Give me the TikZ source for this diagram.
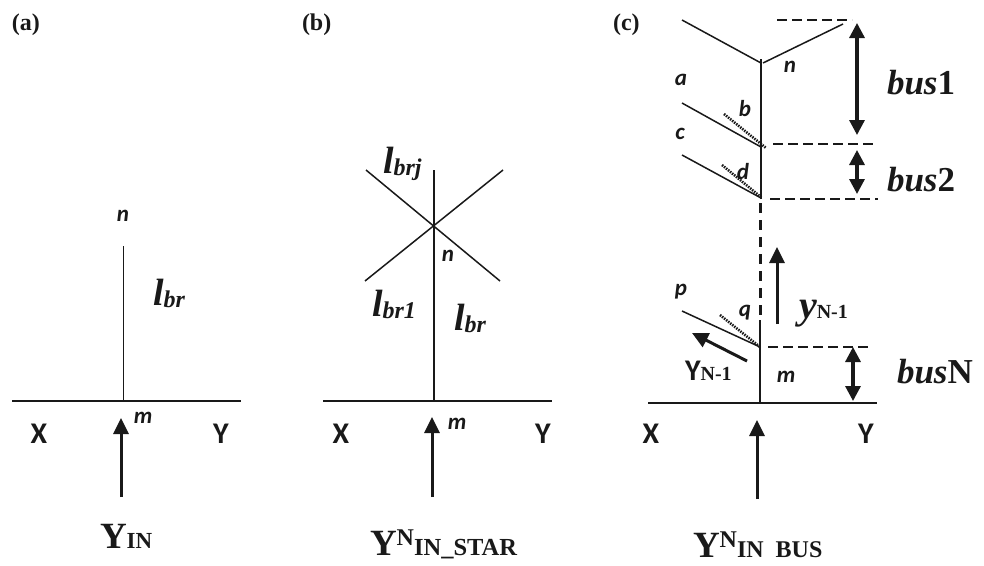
\documentclass[tikz,border=0pt]{standalone}
\usepackage{fontspec}
\usetikzlibrary{arrows.meta}
\setmainfont{Liberation Serif}
\newfontfamily\sansf{Carlito}
\newcommand{\fsz}[1]{\fontsize{#1}{#1}\selectfont}
\newcommand{\lbl}[2]{{\fsz{38}\bfseries\itshape l}\raisebox{-2pt}{\fsz{#2}\bfseries\itshape #1}}
\newcommand{\busl}[1]{{\fsz{35}\bfseries\itshape bus}{\fsz{35}\bfseries #1}}
\tikzset{
  x=1pt,y=-1pt,
  ink/.style={draw=black!90},
  thinl/.style={ink,line width=1.5pt},
  busbar/.style={ink,line width=1.7pt},
  dashl/.style={ink,line width=2pt,dash pattern=on 10pt off 5pt},
  dashv/.style={ink,line width=3pt,dash pattern=on 10pt off 7pt},
  dotl/.style={ink,line width=2.6pt,dash pattern=on 1.5pt off 1.1pt},
  uparr/.style={ink,line width=3pt,-{Triangle[width=15pt,length=16pt]}},
  dblarr/.style={ink,line width=3.2pt,{Triangle[width=15pt,length=15pt]}-{Triangle[width=15pt,length=15pt]}},
  txt/.style={inner sep=0pt,outer sep=0pt,text=black!90},
  base/.style={txt,anchor=base west},
  panel/.style={base,font=\fsz{24}\bfseries},
  nodel/.style={txt,font=\sansf\fsz{23}\bfseries\itshape},
  xyl/.style={txt,font=\sansf\fsz{30}\bfseries},
}
\begin{document}
\begin{tikzpicture}
\useasboundingbox (0,0) rectangle (984,565);
% panel labels
\node[panel] (pa) at (12,30) {(a)};
\node[panel] (pb) at (302,30) {(b)};
\node[panel] (pc) at (613,30) {(c)};

% ---------- (a)
\coordinate (a1) at (12,401); \coordinate (a2) at (241,401);
\coordinate (am) at (123.5,401); \coordinate (an) at (123.5,246);
\coordinate (as) at (121,497); \coordinate (at) at (121,418);
\draw[busbar] (a1) -- (a2);
\draw[thinl] (am) -- (an);
\draw[uparr] (as) -- (at);
\node[nodel] (anl) at (123,216) {n};
\node[nodel] (aml) at (143,418) {m};
\node[xyl] (ax) at (39,434) {X};
\node[xyl] (ay) at (221,434) {Y};
\node[base] (albr) at (153,305) {\lbl{br}{24}};
\node[base] (ayin) at (100,548) {{\fsz{37}\bfseries Y}{\fsz{23}\bfseries IN}};

% ---------- (b)
\coordinate (b1) at (323,401); \coordinate (b2) at (552,401);
\coordinate (bm) at (434,401); \coordinate (bt) at (434,170);
\coordinate (c1a) at (366,170); \coordinate (c1b) at (500,281);
\coordinate (c2a) at (365,281); \coordinate (c2b) at (503,170);
\coordinate (bs) at (432,497); \coordinate (bh) at (432,417);
\draw[busbar] (b1) -- (b2);
\draw[thinl] (bm) -- (bt);
\draw[thinl] (c1a) -- (c1b);
\draw[thinl] (c2a) -- (c2b);
\draw[uparr] (bs) -- (bh);
\node[nodel] (bnl) at (448,256) {n};
\node[nodel] (bml) at (457,424) {m};
\node[xyl] (bx) at (341,434) {X};
\node[xyl] (by) at (543,434) {Y};
\node[base] (blj) at (383,173) {\lbl{brj}{24}};
\node[base] (bl1) at (372,316) {\lbl{br1}{24}};
\node[base] (blr) at (454,330) {\lbl{br}{24}};
\node[base] (bylab) at (370,555) {{\fsz{37}\bfseries Y}\raisebox{10pt}{\fsz{24}\bfseries N}{\fsz{24.5}\bfseries IN\_STAR}};

% ---------- (c)
\coordinate (d1) at (648,403); \coordinate (d2) at (877,403);
\coordinate (dm) at (760,403); \coordinate (dq) at (760,320);
\coordinate (dd) at (761,199); \coordinate (dn) at (761,59);
\coordinate (y1) at (682,20); \coordinate (y2) at (761,63);
\coordinate (y3) at (763,63); \coordinate (y4) at (843,24);
\coordinate (ba) at (682,103); \coordinate (bb) at (761,147);
\coordinate (bc) at (682,155); \coordinate (bd) at (761,198);
\coordinate (dotb1) at (724,114); \coordinate (dotb2) at (766,148);
\coordinate (dotd1) at (722,165); \coordinate (dotd2) at (762,198);
\coordinate (bp) at (682,311); \coordinate (bq) at (760,347);
\coordinate (dotq1) at (720,315); \coordinate (dotq2) at (760,347);
\draw[busbar] (d1) -- (d2);
\draw[thinl] (dm) -- (dq);
\draw[thinl] (dd) -- (dn);
\draw[dashv] (760,203) coordinate (dv1) -- (dq);
\draw[thinl] (y1) -- (y2);
\draw[thinl] (y3) -- (y4);
\draw[thinl] (ba) -- (bb);
\draw[thinl] (bc) -- (bd);
\draw[thinl] (bp) -- (bq);
\draw[dotl] (dotb1) -- (dotb2);
\draw[dotl] (dotd1) -- (dotd2);
\draw[dotl] (dotq1) -- (dotq2);
% dashed levels
\coordinate (l1a) at (777,20); \coordinate (l1b) at (852,20);
\coordinate (l2a) at (773,144); \coordinate (l2b) at (873,144);
\coordinate (l3a) at (770,199); \coordinate (l3b) at (878,199);
\coordinate (l4a) at (768,347); \coordinate (l4b) at (868,347);
\draw[dashl] (l1a) -- (l1b);
\draw[dashl] (l2a) -- (l2b);
\draw[dashl] (l3a) -- (l3b);
\draw[dashl] (l4a) -- (l4b);
% arrows
\coordinate (r1a) at (857,23); \coordinate (r1b) at (857,135);
\coordinate (r2a) at (857,150); \coordinate (r2b) at (857,194);
\coordinate (r3a) at (853,347); \coordinate (r3b) at (853,401);
\draw[dblarr] (r1a) -- (r1b);
\draw[dblarr] (r2a) -- (r2b);
\draw[dblarr] (r3a) -- (r3b);
\coordinate (ua) at (777,324); \coordinate (ub) at (777,247);
\draw[uparr] (ua) -- (ub);
\coordinate (ya) at (747,361); \coordinate (yb) at (692,333);
\draw[uparr] (ya) -- (yb);
\coordinate (ds) at (757,499); \coordinate (dh) at (757,420);
\draw[uparr] (ds) -- (dh);
% labels
\node[nodel] (cn) at (790,67) {n};
\node[nodel] (ca) at (681,80) {a};
\node[nodel] (cb) at (745,109) {b};
\node[nodel] (cc) at (680,134) {c};
\node[nodel] (cd) at (743,172) {d};
\node[nodel] (cp) at (681,292) {p};
\node[nodel] (cq) at (745,313) {q};
\node[nodel] (cm) at (786,377) {m};
\node[xyl] (cx) at (651,434) {X};
\node[xyl] (cy) at (866,434) {Y};
\node[base] (bus1) at (887,94) {\busl{1}};
\node[base] (bus2) at (887,191) {\busl{2}};
\node[base] (busn) at (897,383) {\busl{N}};
\node[base] (ylow) at (799,318) {{\fsz{40}\bfseries\itshape y}{\fsz{20}\bfseries N-1}};
\node[base] (yup) at (685,380) {{\sansf\fsz{30}\bfseries Y}{\fsz{20}\bfseries N-1}};
\node[base] (ybus) at (693,557) {{\fsz{37}\bfseries Y}\raisebox{10pt}{\fsz{24}\bfseries N}{\fsz{24}\bfseries IN\hspace{12pt}BUS}};
\end{tikzpicture}
\end{document}
